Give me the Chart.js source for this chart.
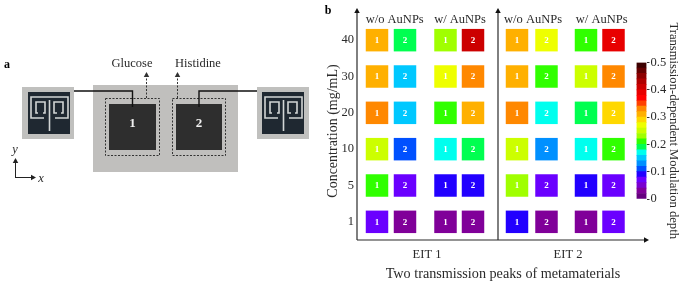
<!DOCTYPE html>
<html>
<head>
<meta charset="utf-8">
<script src="https://cdn.jsdelivr.net/npm/chart.js@4/dist/chart.umd.min.js"></script>
<style>
  html, body { margin: 0; padding: 0; background: #fff; }
  #wrap { position: relative; width: 685px; height: 284px; overflow: hidden; }
  canvas { position: absolute; top: 0; }
  #mainChart { left: 0; }
  #barChart { left: 620px; }
</style>
</head>
<body>
<div id="wrap">
  <canvas id="mainChart" width="685" height="284"></canvas>
  <canvas id="barChart" width="65" height="284"></canvas>
</div>
<script>
// Rows top to bottom
const concentrations = ['40', '30', '20', '10', '5', '1'];

// Modulation depth, one array per column
const eit1NoAuPeak1 = [0.30, 0.30, 0.32, 0.24, 0.20, 0.06];
const eit1NoAuPeak2 = [0.18, 0.14, 0.14, 0.10, 0.06, 0.02];
const eit1AuPeak1 = [0.22, 0.26, 0.20, 0.16, 0.08, 0.02];
const eit1AuPeak2 = [0.40, 0.32, 0.30, 0.18, 0.08, 0.02];
const eit2NoAuPeak1 = [0.30, 0.30, 0.32, 0.24, 0.22, 0.08];
const eit2NoAuPeak2 = [0.26, 0.20, 0.16, 0.12, 0.06, 0.02];
const eit2AuPeak1 = [0.20, 0.24, 0.18, 0.16, 0.08, 0.02];
const eit2AuPeak2 = [0.38, 0.32, 0.28, 0.20, 0.06, 0.06];

const columns = [eit1NoAuPeak1, eit1NoAuPeak2, eit1AuPeak1, eit1AuPeak2,
                 eit2NoAuPeak1, eit2NoAuPeak2, eit2AuPeak1, eit2AuPeak2];
const peakLabels = ['1', '2', '1', '2', '1', '2', '1', '2'];

const columnX = [20, 48, 88.5, 116, 160, 189.5, 229, 256.5];
const eitLabels = ['EIT 1', 'EIT 2'];
const eitX = [70, 211];
const groupLabels = ['w/o AuNPs', 'w/ AuNPs', 'w/o AuNPs', 'w/ AuNPs'];
const groupX = [37.7, 103, 176, 244.7];
const dividerX = 141;

// Colour bar bands, bottom to top, each bandStep wide
const bandStep = 0.02;
const bandColors = ['#66007f', '#800099', '#7a00d0', '#6a00ff', '#2200ff', '#0050ff', '#0090ff',
  '#00c8ff', '#00ffee', '#00ff50', '#30ff00', '#a0ff00', '#ccff00', '#eeff00', '#ffd800',
  '#ffb000', '#ff8800', '#ff4000', '#ff0000', '#e80000', '#cc0000', '#b00000', '#8c0000',
  '#640000', '#3c0000'];

const serif = '"Liberation Serif", serif';
const inkColor = '#2a2a2a';

function colorFor(value) {
    return bandColors[Math.min(Math.floor(value / bandStep + 1e-6), bandColors.length - 1)];
}

function arrowHead(ctx, x, y, dx, dy, size) {
    ctx.beginPath();
    ctx.moveTo(x, y);
    ctx.lineTo(x - dx * size + dy * size * 0.55, y - dy * size + dx * size * 0.55);
    ctx.lineTo(x - dx * size - dy * size * 0.55, y - dy * size - dx * size * 0.55);
    ctx.closePath();
    ctx.fill();
}

function line(ctx, points) {
    ctx.beginPath();
    points.forEach((p, i) => i ? ctx.lineTo(p[0], p[1]) : ctx.moveTo(p[0], p[1]));
    ctx.stroke();
}

function drawChip(ctx, left, inner) {
    ctx.fillStyle = '#c0c0be';
    ctx.fillRect(left, 87, 52, 52);
    ctx.fillStyle = '#1f2831';
    ctx.fillRect(inner, 92, 42, 42);
    ctx.strokeStyle = '#d2d5d5';
    ctx.lineWidth = 1.6;
    const o = inner - 28;
    line(ctx, [[44 + o, 118], [31 + o, 118], [31 + o, 97], [68 + o, 97], [68 + o, 118], [55 + o, 118]]);
    line(ctx, [[38 + o, 113], [36 + o, 113], [36 + o, 102], [45 + o, 102], [45 + o, 113], [43 + o, 113]]);
    line(ctx, [[57 + o, 113], [54 + o, 113], [54 + o, 102], [63 + o, 102], [63 + o, 113], [61 + o, 113]]);
    line(ctx, [[49.5 + o, 100], [49.5 + o, 131]]);
}

// Panel a: the schematic on the left, not data
function drawSchematic(ctx) {
    drawChip(ctx, 22, 28);
    drawChip(ctx, 257, 262);

    ctx.fillStyle = '#c0bfbd';
    ctx.fillRect(93, 85, 145, 87);
    ctx.fillStyle = '#2e2e2e';
    ctx.fillRect(109, 104, 47, 46);
    ctx.fillRect(176, 104, 46, 46);

    ctx.strokeStyle = '#333';
    ctx.lineWidth = 1;
    ctx.setLineDash([2, 1.5]);
    ctx.strokeRect(105.5, 98.5, 54, 57);
    ctx.strokeRect(172.5, 98.5, 53, 57);
    line(ctx, [[146.5, 98], [146.5, 76]]);
    line(ctx, [[177.5, 98], [177.5, 76]]);
    ctx.setLineDash([]);
    ctx.fillStyle = '#333';
    arrowHead(ctx, 146.5, 72, 0, -1, 5);
    arrowHead(ctx, 177.5, 72, 0, -1, 5);

    ctx.strokeStyle = '#111';
    ctx.lineWidth = 1.4;
    line(ctx, [[74, 91], [132.5, 91], [132.5, 107]]);
    line(ctx, [[257, 91], [199, 91], [199, 107]]);

    ctx.strokeStyle = '#222';
    ctx.lineWidth = 1;
    line(ctx, [[15.5, 178], [15.5, 162]]);
    line(ctx, [[15.5, 177.5], [32, 177.5]]);
    ctx.fillStyle = '#222';
    arrowHead(ctx, 15.5, 158, 0, -1, 5);
    arrowHead(ctx, 36, 177.5, 1, 0, 5);

    ctx.textAlign = 'center';
    ctx.textBaseline = 'middle';
    ctx.fillStyle = inkColor;
    ctx.font = '12.5px ' + serif;
    ctx.fillText('Glucose', 132, 64);
    ctx.fillText('Histidine', 198, 64);
    ctx.font = 'italic 12.5px ' + serif;
    ctx.fillText('y', 15, 150);
    ctx.fillText('x', 41, 179);
    ctx.fillStyle = '#000';
    ctx.font = 'bold 12px ' + serif;
    ctx.fillText('a', 7, 65);
    ctx.fillText('b', 328, 11);
    ctx.fillStyle = '#f0f0f0';
    ctx.font = 'bold 13px ' + serif;
    ctx.fillText('1', 132.5, 124);
    ctx.fillText('2', 199, 124);
}

const panelPlugin = {
    id: 'panelPlugin',
    afterDraw(chart) {
        const ctx = chart.ctx;
        const area = chart.chartArea;
        const x = chart.scales.x;
        ctx.save();

        // Axes with arrow heads and the EIT divider
        const axisTop = 8;
        const divider = x.getPixelForValue(dividerX);
        ctx.strokeStyle = inkColor;
        ctx.fillStyle = '#111';
        ctx.lineWidth = 1.2;
        line(ctx, [[area.left, area.bottom], [area.left, axisTop + 3]]);
        line(ctx, [[divider, area.bottom], [divider, axisTop + 3]]);
        line(ctx, [[area.left, area.bottom], [area.right - 3, area.bottom]]);
        arrowHead(ctx, area.left, axisTop, 0, -1, 5);
        arrowHead(ctx, divider, axisTop, 0, -1, 5);
        arrowHead(ctx, area.right, area.bottom, 1, 0, 5);

        // Peak number inside every cell
        ctx.textAlign = 'center';
        ctx.textBaseline = 'middle';
        ctx.fillStyle = '#fff';
        ctx.font = 'bold 9px ' + serif;
        chart.data.datasets.forEach((ds, i) => {
            chart.getDatasetMeta(i).data.forEach(pt => {
                ctx.fillText(peakLabels[i], pt.x, pt.y + 0.5);
            });
        });

        // Group labels over the columns
        ctx.fillStyle = inkColor;
        ctx.font = '12.5px ' + serif;
        groupLabels.forEach((label, i) => {
            ctx.fillText(label, x.getPixelForValue(groupX[i]), 20);
        });

        drawSchematic(ctx);
        ctx.restore();
    }
};

const mainChart = new Chart(document.getElementById('mainChart').getContext('2d'), {
    type: 'scatter',
    data: {
        datasets: columns.map((values, i) => ({
            label: 'column ' + (i + 1),
            data: values.map((v, r) => ({ x: columnX[i], y: concentrations[r] })),
            pointStyle: 'rect',
            pointRadius: 15.9,
            pointBorderWidth: 0,
            pointBackgroundColor: values.map(colorFor)
        }))
    },
    options: {
        responsive: false,
        animation: false,
        layout: { padding: { left: 325, top: 22, right: 36, bottom: 0 } },
        plugins: { legend: { display: false }, tooltip: { enabled: false } },
        scales: {
            x: {
                type: 'linear',
                min: 0,
                max: 292,
                grid: { display: false, drawTicks: false },
                border: { display: false },
                afterBuildTicks: axis => { axis.ticks = eitX.map(v => ({ value: v })); },
                afterFit: axis => { axis.height = 44; },
                ticks: {
                    autoSkip: false,
                    maxRotation: 0,
                    padding: 7,
                    color: inkColor,
                    font: { family: serif, size: 12.5 },
                    callback: (value, index) => eitLabels[index]
                },
                title: {
                    display: true,
                    text: 'Two transmission peaks of metamaterials',
                    color: inkColor,
                    font: { family: serif, size: 14.2 },
                    padding: { top: 3, bottom: 1 }
                }
            },
            y: {
                type: 'category',
                labels: concentrations,
                offset: true,
                grid: { display: false, drawTicks: false },
                border: { display: false },
                afterFit: axis => { axis.width = 32; },
                ticks: {
                    padding: 3,
                    color: inkColor,
                    font: { family: serif, size: 12.5 }
                },
                title: {
                    display: true,
                    text: 'Concentration (mg/mL)',
                    color: inkColor,
                    font: { family: serif, size: 14 },
                    padding: 0
                }
            }
        }
    },
    plugins: [panelPlugin]
});

const barChart = new Chart(document.getElementById('barChart').getContext('2d'), {
    type: 'bar',
    data: {
        labels: ['depth'],
        datasets: bandColors.map(color => ({
            data: [bandStep],
            backgroundColor: color,
            barPercentage: 1,
            categoryPercentage: 1
        }))
    },
    options: {
        responsive: false,
        animation: false,
        layout: { padding: { left: 16.5, top: 62.5, right: 4.5, bottom: 85 } },
        plugins: { legend: { display: false }, tooltip: { enabled: false } },
        scales: {
            x: { stacked: true, display: false },
            y: {
                stacked: true,
                position: 'right',
                min: 0,
                max: 0.5,
                afterFit: axis => { axis.width = 34; },
                grid: { drawOnChartArea: false, tickLength: 3, color: '#333' },
                border: { display: false },
                ticks: {
                    stepSize: 0.1,
                    padding: 1,
                    color: inkColor,
                    font: { family: serif, size: 12.5 },
                    callback: value => value === 0 ? '0' : value.toFixed(1)
                },
                title: {
                    display: true,
                    text: 'Transmission-dependent Modulation depth',
                    color: inkColor,
                    font: { family: serif, size: 12.6 },
                    padding: 0
                }
            }
        }
    }
});
</script>
</body>
</html>
